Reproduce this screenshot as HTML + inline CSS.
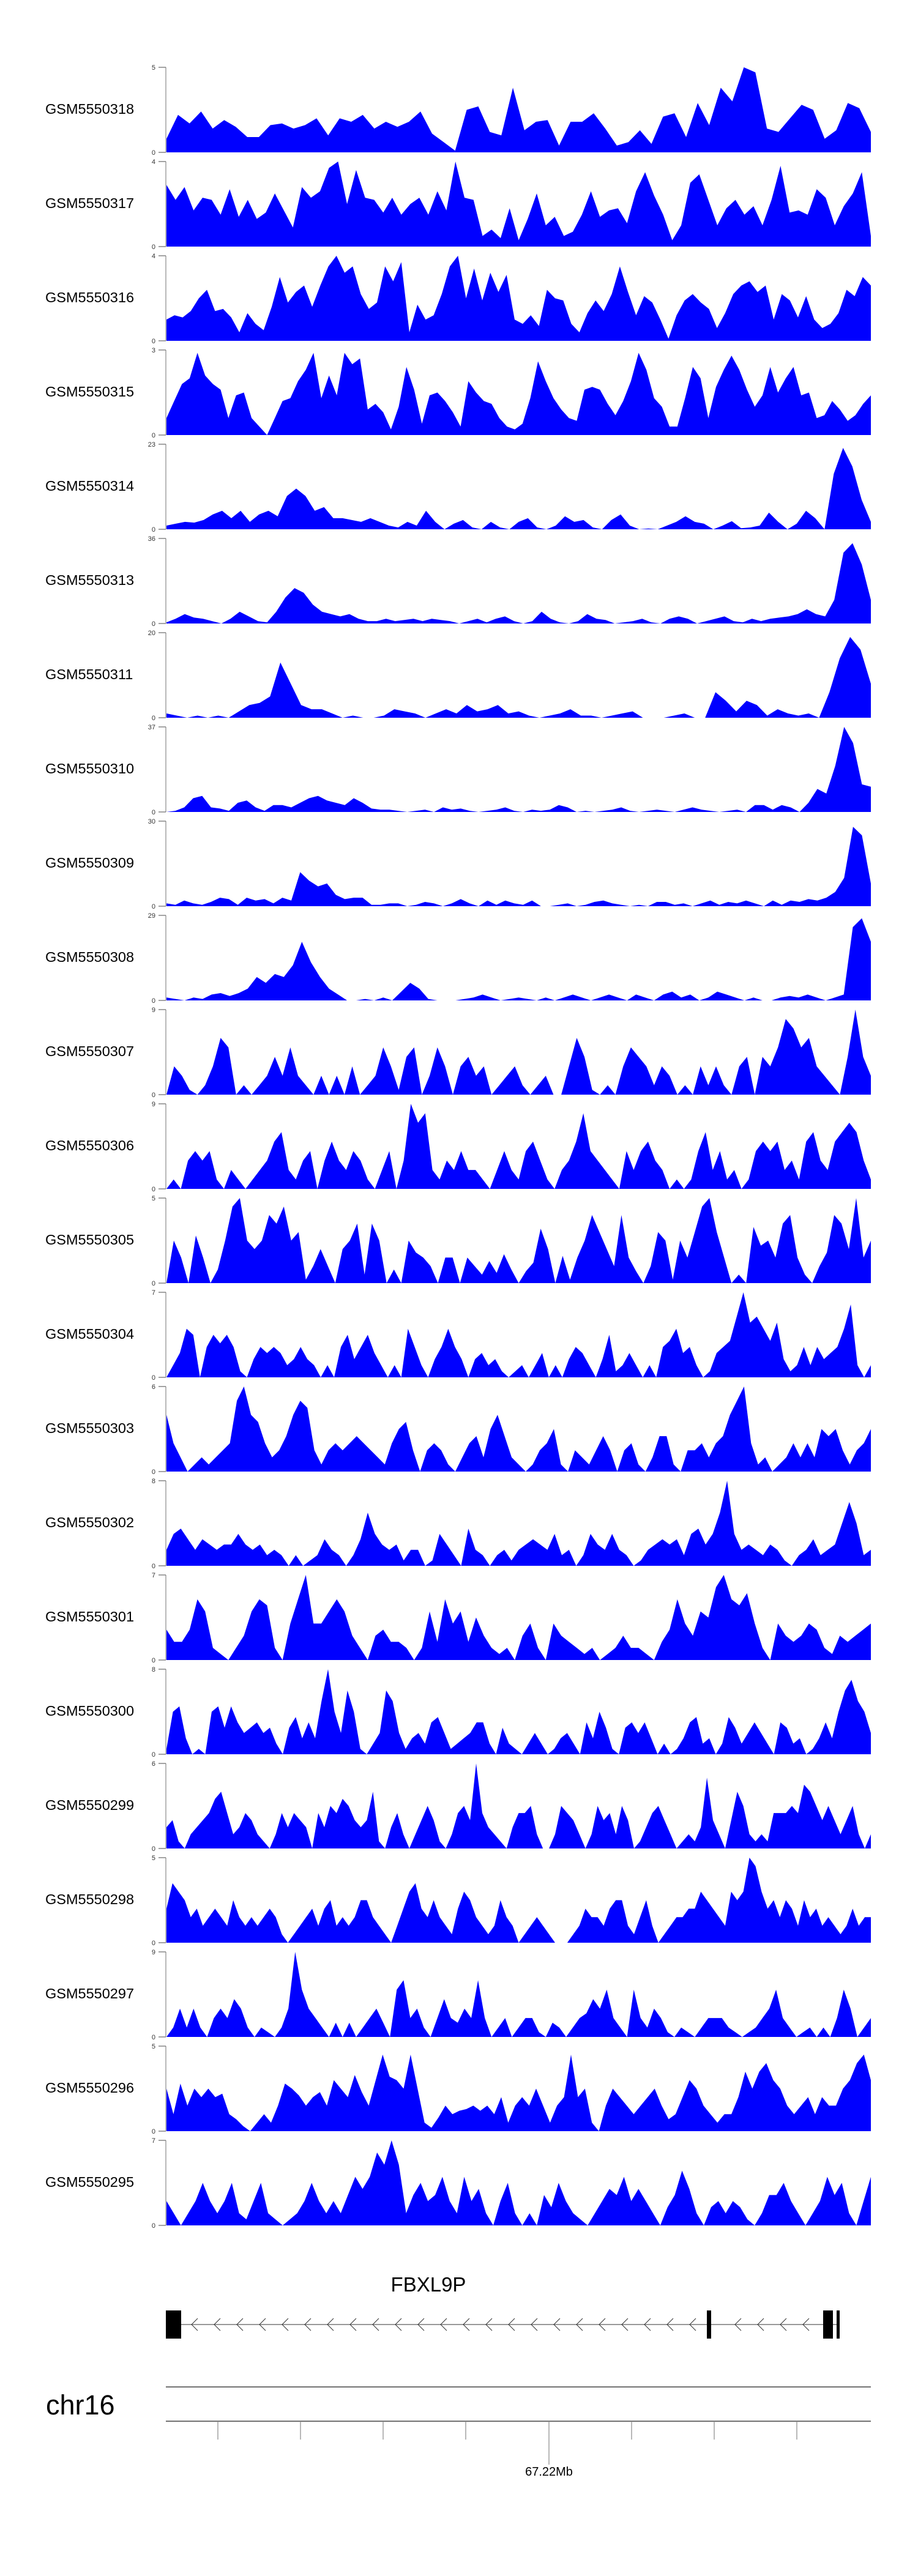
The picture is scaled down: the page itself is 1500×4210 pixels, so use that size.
<!DOCTYPE html>
<html><head><meta charset="utf-8">
<style>
html,body{margin:0;padding:0;background:#fff;}
svg{display:block;}
text{font-family:"Liberation Sans",Arial,sans-serif;}
</style></head>
<body>
<svg id="chart" xmlns="http://www.w3.org/2000/svg" width="1500" height="4210" viewBox="0 0 1500 4210">
<rect x="0" y="0" width="1500" height="4210" fill="#fff"/>
<g id="tracks"></g>
<g id="gene">
  <text x="700" y="3745" font-size="33" text-anchor="middle" fill="#000">FBXL9P</text>
</g>
<g id="axis">
  <text x="75" y="3946" font-size="45" fill="#000">chr16</text>
  <line x1="271" y1="3901" x2="1423" y2="3901" stroke="#444" stroke-width="1.5"/>
  <line x1="271" y1="3957" x2="1423" y2="3957" stroke="#444" stroke-width="1.5"/>
</g>
</svg>
<script>
const trackNames = ["GSM5550318","GSM5550317","GSM5550316","GSM5550315","GSM5550314","GSM5550313","GSM5550311","GSM5550310","GSM5550309","GSM5550308","GSM5550307","GSM5550306","GSM5550305","GSM5550304","GSM5550303","GSM5550302","GSM5550301","GSM5550300","GSM5550299","GSM5550298","GSM5550297","GSM5550296","GSM5550295"];
const trackMax = [5,4,4,3,23,36,20,37,30,29,9,9,5,7,6,8,7,8,6,5,9,5,7];
const s318 = [0.8,2.2,1.7,2.4,1.4,1.9,1.5,0.9,0.9,1.6,1.7,1.4,1.6,2.0,1.0,2.0,1.8,2.2,1.4,1.8,1.5,1.8,2.4,1.1,0.6,0.1,2.5,2.7,1.2,1.0,3.8,1.3,1.8,1.9,0.4,1.8,1.8,2.3,1.4,0.4,0.6,1.3,0.5,2.1,2.3,0.9,2.9,1.6,3.8,3.0,5.0,4.7,1.4,1.2,2.0,2.8,2.5,0.8,1.3,2.9,2.6,1.2];
const s317 = [2.9,2.2,2.8,1.7,2.3,2.2,1.5,2.7,1.4,2.2,1.3,1.6,2.5,1.7,0.9,2.8,2.3,2.6,3.7,4.0,2.0,3.6,2.3,2.2,1.6,2.3,1.5,2.0,2.3,1.5,2.6,1.7,4.0,2.3,2.2,0.5,0.8,0.4,1.8,0.3,1.3,2.5,1.0,1.4,0.5,0.7,1.5,2.6,1.4,1.7,1.8,1.1,2.6,3.5,2.4,1.5,0.3,1.0,3.0,3.4,2.2,1.0,1.8,2.2,1.5,1.9,1.0,2.2,3.8,1.6,1.7,1.5,2.7,2.3,1.0,1.9,2.5,3.5,0.5];
const s316 = [1.0,1.2,1.1,1.4,2.0,2.4,1.4,1.5,1.1,0.4,1.3,0.8,0.5,1.6,3.0,1.8,2.3,2.6,1.6,2.6,3.5,4.0,3.2,3.5,2.2,1.5,1.8,3.5,2.8,3.7,0.4,1.7,1.0,1.2,2.2,3.5,4.0,2.0,3.4,1.9,3.2,2.3,3.1,1.0,0.8,1.2,0.7,2.4,2.0,1.9,0.8,0.4,1.3,1.9,1.4,2.2,3.5,2.3,1.2,2.1,1.8,1.0,0.1,1.2,1.9,2.2,1.8,1.5,0.6,1.3,2.2,2.6,2.8,2.3,2.6,1.0,2.2,1.9,1.1,2.1,1.0,0.6,0.8,1.3,2.4,2.1,3.0,2.6];
const s315 = [0.6,1.2,1.8,2.0,2.9,2.1,1.8,1.6,0.6,1.4,1.5,0.6,0.3,0.0,0.6,1.2,1.3,1.9,2.3,2.9,1.3,2.1,1.4,2.9,2.5,2.7,0.9,1.1,0.8,0.2,1.0,2.4,1.6,0.4,1.4,1.5,1.2,0.8,0.3,1.9,1.5,1.2,1.1,0.6,0.3,0.2,0.4,1.3,2.6,1.9,1.3,0.9,0.6,0.5,1.6,1.7,1.6,1.1,0.7,1.2,1.9,2.9,2.3,1.3,1.0,0.3,0.3,1.3,2.4,2.0,0.6,1.7,2.3,2.8,2.3,1.6,1.0,1.4,2.4,1.5,2.0,2.4,1.4,1.5,0.6,0.7,1.2,0.9,0.5,0.7,1.1,1.4];
const s314 = [1,1.5,2,1.8,2.5,4,5,3,5,2,4,5,3.5,9,11,9,5,6,3,3,2.5,2,3,2,1,0.5,2,1,5,2,0,1.5,2.5,0.5,0,2,0.5,0,2,3,0.5,0,1,3.5,2,2.5,0.5,0,2.5,4,1,0,0.2,0,1,2,3.5,2,1.5,0,1,2.2,0.3,0.5,1,4.5,2,0,1.5,5,3,0,15,22,17,8,2];
const s313 = [0.5,2,4,2.5,2,1,0,2,5,3,1,0.5,5,11,15,13,8,5,4,3,4,2,1,1,2,1,1.5,2,1,2,1.5,1,0,1,2,0.5,2,3,1,0,1,5,2,0.5,0,1,4,2,1.5,0,0.5,1,2,0.5,0,2,3,2,0,1,2,3,1,0.5,2,1,2,2.5,3,4,6,4,3,10,30,34,25,10];
const s311 = [1,0.5,0,0.5,0,0.5,0,1.5,3,3.5,5,13,8,3,2,2,1,0,0.5,0,0,0.5,2,1.5,1,0,1,2,1,3,1.5,2,3,1,1.5,0.5,0,0.5,1,2,0.5,0.5,0,0.5,1,1.5,0,0,0,0.5,1,0,0,6,4,1.5,4,3,0.5,2,1,0.5,1,0,6,14,19,16,8];
const s310 = [0,0.5,2,6,7,2,1.5,0.5,4,5,2,0.5,3,3,2,4,6,7,5,4,3,6,4,1.5,1,1,0.5,0,0.5,1,0,2,1,1.5,0.5,0,0.5,1,2,0.5,0,1,0.5,1,3,2,0,0.5,0,0.5,1,2,0.5,0,0.5,1,0.5,0,1,2,1,0.5,0,0.5,1,0,3,3,1,3,2,0,4,10,8,20,37,30,12,11];
const s309 = [1,0.5,2,1,0.5,1.5,3,2.5,0.5,3,2,2.5,1,3,2,12,9,7,8,4,2.5,3,3,0.5,0.5,1,1,0,0.5,1.5,1,0,1,2.5,1,0,2,0.5,2,1,0.5,2,0,0,0.5,1,0,0.5,1.5,2,1,0.5,0,0.5,0,1.5,1.5,0.5,1,0,1,2,0.5,1.5,1,2,1,0,2,0.5,2,1.5,2.5,2,3,5,10,28,25,8];
const s308 = [1,0.5,0,1,0.5,2,2.5,1.5,2.5,4,8,6,9,8,12,20,13,8,4,2,0,0,0.5,0,1,0,3,6,4,0.5,0,0,0,0.5,1,2,1,0,0.5,1,0.5,0,1,0,1,2,1,0,1,2,1,0,2,1,0,2,3,1,2,0,1,3,2,1,0,1,0,0,1,1.5,1,2,1,0,1,2,25,28,20];
const s307 = [0,3,2,0.5,0,1,3,6,5,0,1,0,1,2,4,2,5,2,1,0,2,0,2,0,3,0,1,2,5,3,0.5,4,5,0,2,5,3,0,3,4,2,3,0,1,2,3,1,0,1,2,0,0,3,6,4,0.5,0,1,0,3,5,4,3,1,3,2,0,1,0,3,1,3,1,0,3,4,0,4,3,5,8,7,5,6,3,2,1,0,4,9,4,2];
const s306 = [0,1,0,3,4,3,4,1,0,2,1,0,1,2,3,5,6,2,1,3,4,0,3,5,3,2,4,3,1,0,2,4,0,3,9,7,8,2,1,3,2,4,2,2,1,0,2,4,2,1,4,5,3,1,0,2,3,5,8,4,3,2,1,0,4,2,4,5,3,2,0,1,0,1,4,6,2,4,1,2,0,1,4,5,4,5,2,3,1,5,6,3,2,5,6,7,6,3,1];
const s305 = [0,2.5,1.5,0,2.8,1.5,0,0.8,2.5,4.5,5,2.5,2,2.5,4,3.5,4.5,2.5,3,0.2,1,2,1,0,2,2.5,3.5,0.5,3.5,2.5,0,0.8,0,2.5,1.8,1.5,1,0,1.5,1.5,0,1.5,1,0.5,1.3,0.6,1.7,0.8,0,0.7,1.2,3.2,2,0,1.6,0.2,1.5,2.5,4,3,2,1,4,1.5,0.7,0,1,3,2.5,0.2,2.5,1.5,3,4.5,5,3,1.5,0,0.5,0,3.3,2.2,2.5,1.5,3.5,4,1.5,0.5,0,1,1.8,4,3.5,2,5,1.5,2.5];
const s304 = [0,1,2,4,3.5,0,2.5,3.5,2.8,3.5,2.5,0.5,0,1.5,2.5,2,2.5,2,1,1.5,2.5,1.5,1,0,1,0,2.5,3.5,1.5,2.5,3.5,2,1,0,1,0,4,2.5,1,0,1.5,2.5,4,2.5,1.5,0,1.5,2,1,1.5,0.5,0,0.5,1,0,1,2,0,1,0,1.5,2.5,2,1,0,1.5,3.5,0.5,1,2,1,0,1,0,2.5,3,4,2,2.5,1,0,0.5,2,2.5,3,5,7,4.5,5,4,3,4.5,1.5,0.5,1,2.5,1,2.5,1.5,2,2.5,4,6,1,0,1];
const s303 = [4,2,1,0,0.5,1,0.5,1,1.5,2,5,6,4,3.5,2,1,1.5,2.5,4,5,4.5,1.5,0.5,1.5,2,1.5,2,2.5,2,1.5,1,0.5,2,3,3.5,1.5,0,1.5,2,1.5,0.5,0,1,2,2.5,1,3,4,2.5,1,0.5,0,0.5,1.5,2,3,0.5,0,1.5,1,0.5,1.5,2.5,1.5,0,1.5,2,0.5,0,1,2.5,2.5,0.5,0,1.5,1.5,2,1,2,2.5,4,5,6,2,0.5,1,0,0.5,1,2,1,2,1,3,2.5,3,1.5,0.5,1.5,2,3];
const s302 = [1.5,3,3.5,2.5,1.5,2.5,2,1.5,2,2,3,2,1.5,2,1,1.5,1,0,1,0,0.5,1,2.5,1.5,1,0,1,2.5,5,3,2,1.5,2,0.5,1.5,1.5,0,0.5,3,2,1,0,3.5,1.5,1,0,1,1.5,0.5,1.5,2,2.5,2,1.5,3,1,1.5,0,1,3,2,1.5,3,1.5,1,0,0.5,1.5,2,2.5,2,2.5,1,3,3.5,2,3,5,8,3,1.5,2,1.5,1,2,1.5,0.5,0,1,1.5,2.5,1,1.5,2,4,6,4,1,1.5];
const s301 = [2.5,1.5,1.5,2.5,5,4,1,0.5,0,1,2,4,5,4.5,1,0,3,5,7,3,3,4,5,4,2,1,0,2,2.5,1.5,1.5,1,0,1,4,1.5,5,3,4,1.5,3.5,2,1,0.5,1,0,2,3,1,0,3,2,1.5,1,0.5,1,0,0.5,1,2,1,1,0.5,0,1.5,2.5,5,3,2,4,3.5,6,7,5,4.5,5.5,3,1,0,3,2,1.5,2,3,2.5,1,0.5,2,1.5,2,2.5,3];
const s300 = [0.5,4,4.5,1.5,0,0.5,0,4,4.5,2.5,4.5,3,2,2.5,3,2,2.5,1,0,2.5,3.5,1.5,3,1.5,5,8,4,2,6,4,0.5,0,1,2,6,5,2,0.5,1.5,2,1,3,3.5,2,0.5,1,1.5,2,3,3,1,0,2.5,1,0.5,0,1,2,1,0,0.5,1.5,2,1,0,3,1.5,4,2.5,0.5,0,2.5,3,2,3,1.5,0,1,0,0.5,1.5,3,3.5,1,1.5,0,1,3.5,2.5,1,2,3,2,1,0,3,2.5,1,1.5,0,0.5,1.5,3,1.5,4,6,7,5,4,2];
const s299 = [1.5,2,0.5,0,1,1.5,2,2.5,3.5,4,2.5,1,1.5,2.5,2,1,0.5,0,1,2.5,1.5,2.5,2,1.5,0,2.5,1.5,3,2.5,3.5,3,2,1.5,2,4,0.5,0,1.5,2.5,1,0,1,2,3,2,0.5,0,1,2.5,3,2,6,2.5,1.5,1,0.5,0,1.5,2.5,2.5,3,1,0,0,1,3,2.5,2,1,0,1,3,2,2.5,1,3,2,0,0.5,1.5,2.5,3,2,1,0,0.5,1,0.5,1.5,5,2,1,0,2,4,3,1,0.5,1,0.5,2.5,2.5,2.5,3,2.5,4.5,4,3,2,3,2,1,2,3,1,0,1];
const s298 = [2,3.5,3,2.5,1.5,2,1,1.5,2,1.5,1,2.5,1.5,1,1.5,1,1.5,2,1.5,0.5,0,0.5,1,1.5,2,1,2,2.5,1,1.5,1,1.5,2.5,2.5,1.5,1,0.5,0,1,2,3,3.5,2,1.5,2.5,1.5,1,0.5,2,3,2.5,1.5,1,0.5,1,2.5,1.5,1,0,0.5,1,1.5,1,0.5,0,0,0,0.5,1,2,1.5,1.5,1,2,2.5,2.5,1,0.5,1.5,2.5,1,0,0.5,1,1.5,1.5,2,2,3,2.5,2,1.5,1,3,2.5,3,5,4.5,3,2,2.5,1.5,2.5,2,1,2.5,1.5,2,1,1.5,1,0.5,1,2,1,1.5,1.5];
const s297 = [0,1,3,1,3,1,0,2,3,2,4,3,1,0,1,0.5,0,1,3,9,5,3,2,1,0,1.5,0,1.5,0,1,2,3,1.5,0,5,6,2,3,1,0,2,4,2,1.5,3,2,6,2,0,1,2,0,1,2,2,0.5,0,1.5,1,0,1,2,2.5,4,3,5,2,1,0,5,2,1,3,2,0.5,0,1,0.5,0,1,2,2,2,1,0.5,0,0.5,1,2,3,5,2,1,0,0.5,1,0,1,0,2,5,3,0,1,2];
const s296 = [2.5,1,2.8,1.5,2.5,2,2.5,2,2.2,1,0.7,0.3,0,0.5,1,0.5,1.5,2.8,2.5,2.1,1.5,2,2.3,1.5,3,2.5,2,3.3,2.3,1.5,3,4.5,3.2,3,2.5,4.5,2.5,0.5,0.2,0.8,1.5,1,1.2,1.3,1.5,1.2,1.5,1,2,0.5,1.5,2,1.5,2.5,1.5,0.5,1.5,2,4.5,2,2.5,0.5,0,1.5,2.5,2,1.5,1,1.5,2,2.5,1.5,0.7,1,2,3,2.5,1.5,1,0.5,1,1,2,3.5,2.5,3.5,4,3,2.5,1.5,1,1.5,2,1,2,1.5,1.5,2.5,3,4,4.5,3];
const s295 = [2,1,0,1,2,3.5,2,1,2,3.5,1,0.5,2,3.5,1,0.5,0,0.5,1,2,3.5,2,1,2,1,2.5,4,3,4,6,5,7,5,1,2.5,3.5,2,2.5,4,2,1,4,2,3,1,0,2,3.5,1,0,1,0,2.5,1.5,3.5,2,1,0.5,0,1,2,3,2.5,4,2,3,2,1,0,1.5,2.5,4.5,3,1,0,1.5,2,1,2,1.5,0.5,0,1,2.5,2.5,3.5,2,1,0,1,2,4,2.5,3.5,1,0,2,4];
const trackSeries = [s318,s317,s316,s315,s314,s313,s311,s310,s309,s308,s307,s306,s305,s304,s303,s302,s301,s300,s299,s298,s297,s296,s295];
const exonStarts = [271,1155,1345,1367];
const exonEnds = [296,1162,1361,1372];
const axisTicks = [356,491,626,761,897,1032,1167,1302];

const NS = "http://www.w3.org/2000/svg";
const X0 = 272, X1 = 1423, TOP0 = 110, PITCH = 154, H = 139;
function el(tag, attrs, parent){
  const e = document.createElementNS(NS, tag);
  for (const k in attrs) e.setAttribute(k, attrs[k]);
  parent.appendChild(e);
  return e;
}
const tracks = document.getElementById('tracks');
trackNames.forEach((name, i) => {
  const top = TOP0 + PITCH * i, zero = top + H;
  const g = el('g', {}, tracks);
  
  
  const lab = el('text', {x: 74, y: top + 76, 'font-size': 23.5, fill: '#000'}, g);
  lab.textContent = name;
  
  
  const ax = el('line', {x1: 271, y1: top, x2: 271, y2: zero, stroke: '#888', 'stroke-width': 1.2}, g);
  
  
  [[top, trackMax[i]], [zero, 0]].forEach(([y, v]) => {
    const t = el('line', {x1: 259, y1: y, x2: 271, y2: y, stroke: '#666', 'stroke-width': 1.2}, g);
    
    
    const tl = el('text', {x: 254, y: y + 4, 'font-size': 11, 'text-anchor': 'end', fill: '#333'}, g);
    tl.textContent = v;
    
    
  });
  const data = trackSeries[i], n = data.length, mx = trackMax[i];
  const xs = k => X0 + (X1 - X0) * k / (n - 1);
  const ys = v => zero - H * Math.min(v, mx) / mx;
  let d = 'M' + X0 + ',' + zero;
  data.forEach((v, k) => { d += ' L' + xs(k).toFixed(1) + ',' + ys(v).toFixed(1); });
  d += ' L' + X1 + ',' + zero + ' Z';
  const p = el('path', {d: d, fill: '#0000ff', stroke: 'none'}, g);
  
  
});

const gene = document.getElementById('gene');
const gl = el('line', {x1: 296, y1: 3799, x2: 1369, y2: 3799, stroke: '#999', 'stroke-width': 2}, gene);


for (let x = 313; x < 1345; x += 37) {
  if (x > 1148 && x < 1172) continue;
  const c = el('polyline', {points: (x+10)+',3789 '+x+',3799 '+(x+10)+',3809', fill: 'none', stroke: '#333', 'stroke-width': 1}, gene);
  
  
}
exonStarts.forEach((s, k) => {
  const r = el('rect', {x: s, y: 3776, width: exonEnds[k] - s, height: 46, fill: '#000'}, gene);
  
  
});

const axis = document.getElementById('axis');
axisTicks.forEach((x, k) => {
  const long = k === 4;
  const t = el('line', {x1: x, y1: 3957, x2: x, y2: long ? 4028 : 3987, stroke: '#888', 'stroke-width': 1.2}, axis);
  
  
});
const xl = el('text', {x: 897, y: 4046, 'font-size': 20, 'text-anchor': 'middle', fill: '#000'}, axis);
xl.textContent = '67.22Mb';


</script>
</body></html>
